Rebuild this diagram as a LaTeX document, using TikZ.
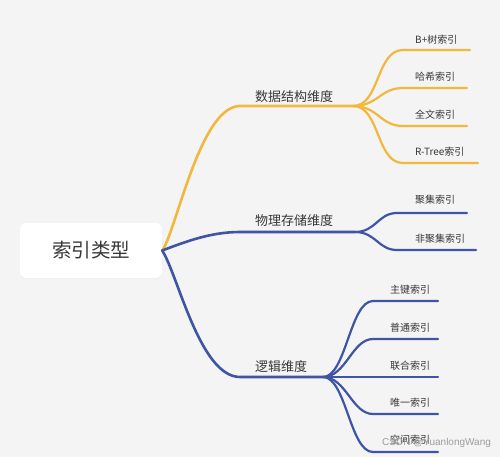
\documentclass[tikz,border=0pt]{standalone}
\usepackage{fontspec}
\newfontfamily\cjk{Noto Sans CJK SC}
\newfontfamily\wmfont{Liberation Sans}
\usetikzlibrary{shadows}
\definecolor{bg}{HTML}{F4F4F5}
\definecolor{ylw}{HTML}{F2B83C}
\definecolor{blu}{HTML}{3E55A6}
\definecolor{txt}{HTML}{383838}
\definecolor{wm}{HTML}{9C9C9C}
\tikzset{
  rootbox/.style={fill=white, rounded corners=6pt, minimum width=142pt, minimum height=55pt,
    inner sep=0pt, font=\cjk\fontsize{19.5}{20}\selectfont, text=txt,
    drop shadow={opacity=0.06, shadow xshift=0pt, shadow yshift=-1pt}},
  lvlone/.style={anchor=west, inner sep=0pt, font=\cjk\fontsize{13}{14}\selectfont, text=txt},
  lvltwo/.style={anchor=west, inner sep=0pt, font=\cjk\fontsize{10}{11}\selectfont, text=txt},
  yline/.style={draw=ylw, line width=2.6pt, line cap=round},
  ythin/.style={draw=ylw, line width=2.2pt, line cap=round},
  bline/.style={draw=blu, line width=2.6pt, line cap=round},
  bthin/.style={draw=blu, line width=2.2pt, line cap=round},
}
\begin{document}
\begin{tikzpicture}[x=1pt,y=-1pt]
\fill[bg] (0,0) rectangle (500,457);
\useasboundingbox (0,0) rectangle (500,457);

% root
\node[rootbox] (root) at (91,250.5) {索引类型};

% level-one points
\coordinate (d1s) at (240,106);  \coordinate (d1) at (353,106);
\coordinate (d2s) at (240,232);  \coordinate (d2) at (355,232);
\coordinate (d3s) at (240,377);  \coordinate (d3) at (323,377);

\draw[yline] (root.east) .. controls (176,232) and (200,106) .. (d1s) -- (d1);
\draw[bline] (root.east) .. controls (185,242) and (210,232) .. (d2s) -- (d2);
\draw[bline] (root.east) .. controls (178,275) and (200,377) .. (d3s) -- (d3);

\node[lvlone] (n1) at (255,97)  {数据结构维度};
\node[lvlone] (n2) at (255,221) {物理存储维度};
\node[lvlone] (n3) at (255,367) {逻辑维度};

% data-structure children
\coordinate (a1s) at (403,50);  \coordinate (a1e) at (470,50);
\coordinate (a2s) at (403,88);  \coordinate (a2e) at (467,88);
\coordinate (a3s) at (403,126); \coordinate (a3e) at (467,126);
\coordinate (a4s) at (403,163); \coordinate (a4e) at (478,163);
\draw[ythin] (d1) .. controls (380,106) and (376,50) .. (a1s) -- (a1e);
\draw[ythin] (d1) .. controls (378,106) and (380,88) .. (a2s) -- (a2e);
\draw[ythin] (d1) .. controls (378,106) and (380,126) .. (a3s) -- (a3e);
\draw[ythin] (d1) .. controls (380,106) and (376,163) .. (a4s) -- (a4e);
\node[lvltwo] (t1) at (415,40)  {B+树索引};
\node[lvltwo] (t2) at (415,77)  {哈希索引};
\node[lvltwo] (t3) at (415,115) {全文索引};
\node[lvltwo] (t4) at (415,152) {R-Tree索引};

% physical children
\coordinate (b1s) at (397,213); \coordinate (b1e) at (467,213);
\coordinate (b2s) at (397,250); \coordinate (b2e) at (476,250);
\draw[bthin] (d2) .. controls (376,232) and (378,213) .. (b1s) -- (b1e);
\draw[bthin] (d2) .. controls (376,232) and (378,250) .. (b2s) -- (b2e);
\node[lvltwo] (p1) at (415,200) {聚集索引};
\node[lvltwo] (p2) at (415,239) {非聚集索引};

% logic children
\coordinate (c1s) at (373,301); \coordinate (c1e) at (438,301);
\coordinate (c2s) at (373,339); \coordinate (c2e) at (438,339);
\coordinate (c3e) at (438,377);
\coordinate (c4s) at (373,414); \coordinate (c4e) at (438,414);
\coordinate (c5s) at (373,452); \coordinate (c5e) at (438,452);
\draw[bthin] (d3) .. controls (346,377) and (350,301) .. (c1s) -- (c1e);
\draw[bthin] (d3) .. controls (346,377) and (352,339) .. (c2s) -- (c2e);
\draw[bthin] (d3) -- (c3e);
\draw[bthin] (d3) .. controls (346,377) and (352,414) .. (c4s) -- (c4e);
\draw[bthin] (d3) .. controls (346,377) and (350,452) .. (c5s) -- (c5e);
\node[lvltwo] (q1) at (390,290) {主键索引};
\node[lvltwo] (q2) at (390,328) {普通索引};
\node[lvltwo] (q3) at (390,366) {联合索引};
\node[lvltwo] (q4) at (390,403) {唯一索引};
\node[lvltwo] (q5) at (390,440) {空间索引};

% watermark
\node[anchor=west, inner sep=0pt, text=wm, font=\wmfont\fontsize{10}{11}\selectfont] (wmk) at (382,443) {CSDN @YuanlongWang};
\end{tikzpicture}
\end{document}
